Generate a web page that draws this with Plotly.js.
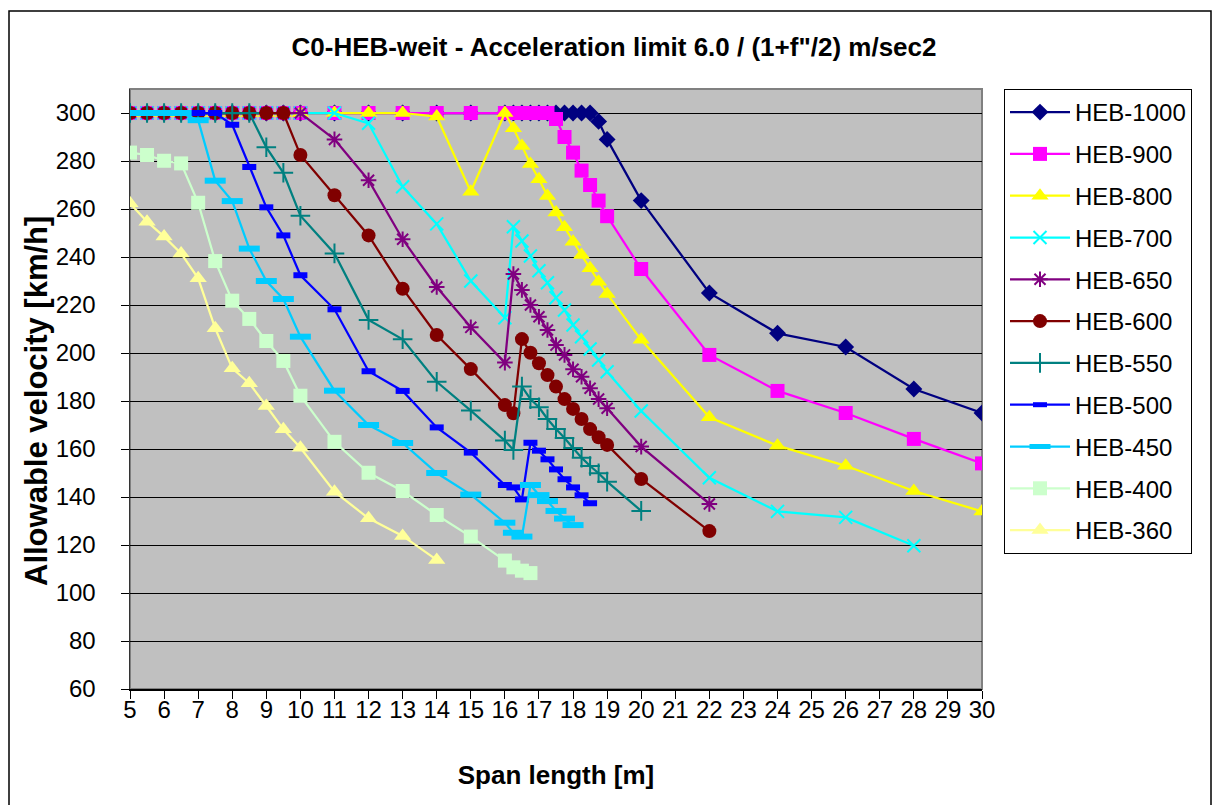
<!DOCTYPE html>
<html>
<head>
<meta charset="utf-8">
<script src="https://cdn.plot.ly/plotly-3.0.1.min.js"></script>
<style>
  html, body { margin: 0; padding: 0; background: #ffffff; }
  #chart { width: 1218px; height: 805px; }
</style>
</head>
<body>
<div id="chart"></div>
<script>
// ---- Data ----
const xFull = [5,5.5,6,6.5,7,7.5,8,8.5,9,9.5,10,11,12,13,14,15,16,16.25,16.5,16.75,17,17.25,17.5,17.75,18,18.25,18.5,18.75,19,20,22,24,26,28,30];
const x700  = [5,5.5,6,6.5,7,7.5,8,8.5,9,9.5,10,11,12,13,14,15,16,16.25,16.5,16.75,17,17.25,17.5,17.75,18,18.25,18.5,18.75,19,20,22,24,26,28];
const x650  = [5,5.5,6,6.5,7,7.5,8,8.5,9,9.5,10,11,12,13,14,15,16,16.25,16.5,16.75,17,17.25,17.5,17.75,18,18.25,18.5,18.75,19,20,22];
const x550  = [5,5.5,6,6.5,7,7.5,8,8.5,9,9.5,10,11,12,13,14,15,16,16.25,16.5,16.75,17,17.25,17.5,17.75,18,18.25,18.5,18.75,19,20];
const x500  = [5,5.5,6,6.5,7,7.5,8,8.5,9,9.5,10,11,12,13,14,15,16,16.25,16.5,16.75,17,17.25,17.5,17.75,18,18.25,18.5];
const x450  = [5,5.5,6,6.5,7,7.5,8,8.5,9,9.5,10,11,12,13,14,15,16,16.25,16.5,16.75,17,17.25,17.5,17.75,18];
const x400  = [5,5.5,6,6.5,7,7.5,8,8.5,9,9.5,10,11,12,13,14,15,16,16.25,16.5,16.75];
const x360  = [5,5.5,6,6.5,7,7.5,8,8.5,9,9.5,10,11,12,13,14];

const heb1000 = [300,300,300,300,300,300,300,300,300,300,300,300,300,300,300,300,300,300,300,300,300,300,300,300,300,300,300,296.5,289,263.5,225,208.2,202.5,185,175];
const heb900  = [300,300,300,300,300,300,300,300,300,300,300,300,300,300,300,300,300,300,300,300,300,300,297.5,290,283.5,276,270,263.5,257,235,199.2,184.2,175,164.2,154];
const heb800  = [300,300,300,300,300,300,300,300,300,300,300,300,300,300,298.5,267.2,300,293.6,286.3,278.8,272.4,265.4,258.5,252.4,246.4,240.8,235.3,229.7,224.6,205.5,173.2,161.4,153,142.5,134];
const heb700  = [300,300,300,300,300,300,300,300,300,300,300,300,295.7,269.3,253.8,230,214.7,252.6,246.7,240.4,234.3,229.3,223,217.9,211.7,206.8,201.7,197.1,192.2,175.8,148,134,131.5,119.7];
const heb650  = [300,300,300,300,300,300,300,300,300,300,300,289,272,247.4,227.5,210.7,196,232.9,226.3,220,215.1,209.6,203.3,199.2,193.2,190.1,185.3,180.8,177,161,137.1];
const heb600  = [300,300,300,300,300,300,300,300,300,300,282.5,265.7,249,226.8,207.5,193.3,178.3,174.9,205.8,200.1,195.7,190.8,186,180.8,176.7,172.5,168.3,164.9,161.7,147.5,125.8];
const heb550  = [300,300,300,300,300,300,300,300,285.7,275.1,257.2,241.5,213.8,205.7,188,176,163.5,159.6,186,180.8,177.4,172.5,168.3,164.6,160.4,156.4,152.9,149.9,146.4,134.2];
const heb500  = [300,300,300,300,300,300,295.1,277.5,260.7,249,232.4,218.2,192.4,184.2,169,158.5,145,144,139,162.6,159.3,155.7,151.5,147.4,144,140.7,137.4];
const heb450  = [300,300,300,300,297,271.8,263.3,243.5,230,222.5,206.8,184.3,170,162.5,150,141,129.3,125.1,123.5,145,140.8,138.3,134.2,131,128.3];
const heb400  = [283.5,282.5,280.1,279,262.6,238.3,221.8,214.2,205,196.7,182.2,163,150.1,142.5,132.5,123.5,113.5,110.7,109.3,108.3];
const heb360  = [262.4,254.7,248.5,241.5,231.1,210.3,193.6,187.4,177.9,168.2,160.5,142.2,131.1,123.8,113.8];

const seriesNames = ['HEB-1000','HEB-900','HEB-800','HEB-700','HEB-650','HEB-600','HEB-550','HEB-500','HEB-450','HEB-400','HEB-360'];
const chartTitle = 'C0-HEB-weit - Acceleration limit 6.0 / (1+f"/2) m/sec2';
const xTitle = 'Span length [m]';
const yTitle = 'Allowable velocity [km/h]';

// ---- Styles ----
const FONT = 'Arial, "Liberation Sans", sans-serif';
const styles = [
  {x: xFull, y: heb1000, color: '#000080', symbol: 'diamond', size: 13},
  {x: xFull, y: heb900,  color: '#FF00FF', symbol: 'square', size: 14},
  {x: xFull, y: heb800,  color: '#FFFF00', symbol: 'triangle-up', size: 15},
  {x: x700,  y: heb700,  color: '#00FFFF', symbol: 'x-thin-open', size: 13, lw: 2},
  {x: x650,  y: heb650,  color: '#800080', symbol: 'asterisk-open', size: 13, lw: 2},
  {x: x650,  y: heb600,  color: '#800000', symbol: 'circle', size: 14},
  {x: x550,  y: heb550,  color: '#008080', symbol: 'cross-thin-open', size: 14, lw: 2},
  {x: x500,  y: heb500,  color: '#0000FF', symbol: 'line-ew-open', size: 10, lw: 6},
  {x: x450,  y: heb450,  color: '#00CCFF', symbol: 'line-ew-open', size: 15, lw: 6},
  {x: x400,  y: heb400,  color: '#CCFFCC', symbol: 'square', size: 14},
  {x: x360,  y: heb360,  color: '#FFFF99', symbol: 'triangle-up', size: 15}
];

const traces = styles.map((s, i) => {
  const marker = {symbol: s.symbol, size: s.size, color: s.color};
  if (s.lw) marker.line = {color: s.color, width: s.lw};
  return {
    type: 'scatter', mode: 'lines+markers',
    name: seriesNames[i], legendgroup: 'g' + i,
    x: s.x, y: s.y,
    line: {color: s.color, width: 2.25},
    marker: marker
  };
});

// plot area in pixels: x 130..982, y 89..689
const L = 130, R = 982, T = 89, B = 689;
const W = R - L, H = B - T;
const px = v => (v - L) / W;
const py = v => (B - v) / H;

const layout = {
  width: 1218, height: 805,
  margin: {l: L, r: 1218 - R, t: T, b: 805 - B},
  paper_bgcolor: '#ffffff',
  plot_bgcolor: '#C0C0C0',
  font: {family: FONT, color: '#000000', size: 24},
  showlegend: true,
  title: {
    text: '<b>' + chartTitle + '</b>',
    font: {family: FONT, size: 26, color: '#000000'},
    x: 614 / 1218, xanchor: 'center', xref: 'container',
    y: 1 - 47 / 805, yanchor: 'middle', yref: 'container'
  },
  xaxis: {
    range: [5, 30], dtick: 1, tick0: 5, tickmode: 'linear',
    showgrid: false, zeroline: false,
    showline: true, linecolor: '#000000', linewidth: 1.5,
    ticks: 'outside', ticklen: 8, tickwidth: 1, tickcolor: '#000000',
    tickangle: 0, ticklabelstandoff: -9,
    tickfont: {family: FONT, size: 24, color: '#000000'},
    title: {text: '<b>' + xTitle + '</b>', font: {family: FONT, size: 26, color: '#000000'}, standoff: 43}
  },
  yaxis: {
    range: [60, 310], dtick: 20, tick0: 60, tickmode: 'linear',
    showgrid: true, gridcolor: '#000000', gridwidth: 1,
    zeroline: false,
    showline: true, linecolor: '#333333', linewidth: 1.5,
    ticks: 'outside', ticklen: 8, tickwidth: 1, tickcolor: '#000000',
    ticklabelstandoff: 20,
    tickfont: {family: FONT, size: 24, color: '#000000'}
  },
  annotations: [
    {text: '<b>' + yTitle + '</b>', textangle: -90, showarrow: false,
     xref: 'paper', yref: 'paper', x: px(36), y: py(401), xanchor: 'center', yanchor: 'middle',
     font: {family: FONT, size: 31, color: '#000000'}}
  ],
  legend: {
    x: px(1004), xanchor: 'left', y: py(89), yanchor: 'top',
    bgcolor: '#ffffff', bordercolor: '#000000', borderwidth: 1,
    font: {family: FONT, size: 24, color: '#000000'},
    traceorder: 'grouped', tracegroupgap: 7.6,
    itemwidth: 60, entrywidth: 205, entrywidthmode: 'pixels'
  },
  shapes: [
    {type: 'rect', xref: 'paper', yref: 'paper', x0: 0, x1: 1, y0: 0, y1: 1,
     line: {color: '#808080', width: 2}, layer: 'below'},
    {type: 'rect', xref: 'paper', yref: 'paper', x0: px(9), x1: px(1211), y0: py(830), y1: py(11),
     line: {color: '#000000', width: 1.5}, fillcolor: 'rgba(0,0,0,0)', layer: 'above'}
  ]
};

Plotly.newPlot('chart', traces, layout, {displayModeBar: false, staticPlot: true});
</script>
</body>
</html>
